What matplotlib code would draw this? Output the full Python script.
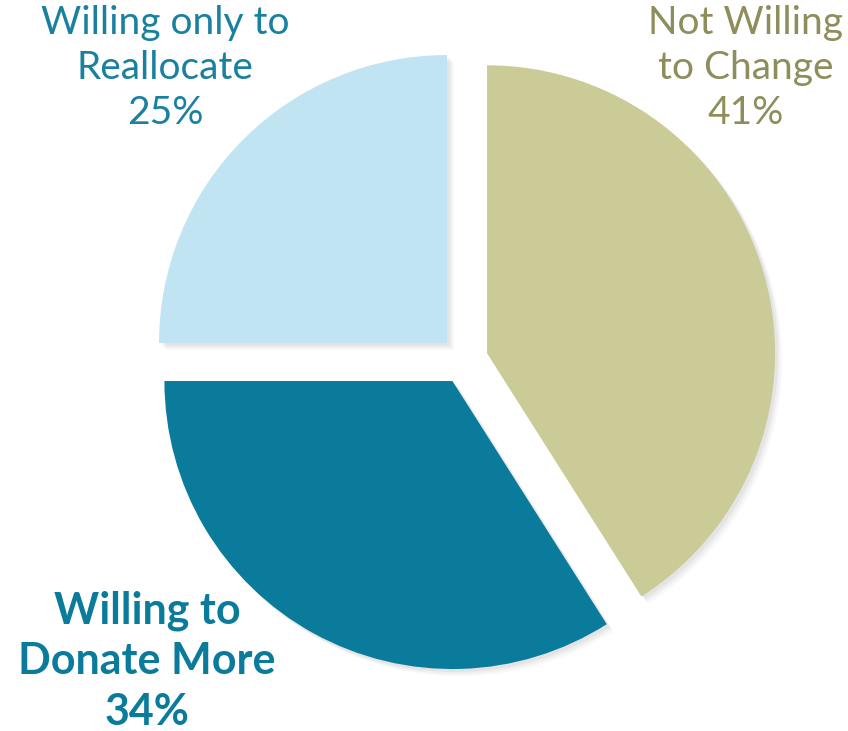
import matplotlib.pyplot as plt

# slice data, clockwise from 12 o'clock
labels = ['Not Willing\nto Change', 'Willing to\nDonate More', 'Willing only to\nReallocate']
values = [41, 34, 25]
colors = ['#CBCB98', '#0B7B9C', '#C0E4F2']
text_colors = ['#8E8E5C', '#0B7B9C', '#1A80A0']

W, H = 848, 731
fig = plt.figure(figsize=(W / 100, H / 100), dpi=100)
ax = fig.add_axes([0, 0, 1, 1])

center = (464, H - 360)
radius = 288
explode = [24] * len(values)

# soft shadow: a few faint offset copies
for k, a in [(7, 0.05), (5, 0.07), (3, 0.09)]:
    ax.pie(values, radius=radius, center=(center[0] + k, center[1] - k),
           explode=explode, startangle=90, counterclock=False,
           colors=['#808080'] * 3, wedgeprops=dict(alpha=a, linewidth=0),
           frame=True)

ax.pie(values, radius=radius, center=center, explode=explode,
       startangle=90, counterclock=False, colors=colors,
       wedgeprops=dict(linewidth=0), frame=True)
ax.set_xlim(0, W)
ax.set_ylim(0, H)
ax.set_aspect('equal')
ax.axis('off')

font = 'Lato'
ax.text(746, H - 68, labels[0] + '\n' + str(values[0]) + '%', ha='center', va='center',
        fontsize=28, color=text_colors[0], family=font, linespacing=1.32)
ax.text(165, H - 68, labels[2] + '\n' + str(values[2]) + '%', ha='center', va='center',
        fontsize=28, color=text_colors[2], family=font, linespacing=1.32)
ax.text(147, H - 661, labels[1] + '\n' + str(values[1]) + '%', ha='center', va='center',
        fontsize=31, color=text_colors[1], family=font, fontweight='bold', linespacing=1.32)

fig.savefig('out.png', dpi=100)
